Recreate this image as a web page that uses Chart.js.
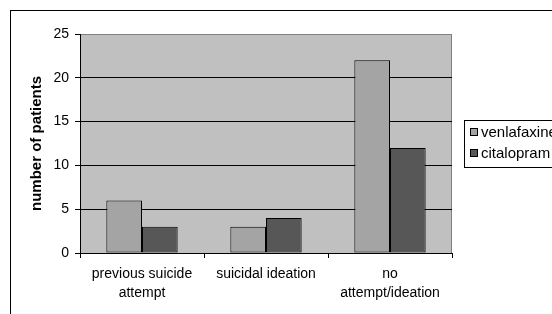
<!DOCTYPE html>
<html>
<head>
<meta charset="utf-8">
<script src="https://cdn.jsdelivr.net/npm/chart.js@4"></script>
<style>
html,body{margin:0;padding:0;background:#fff;}
#wrap{width:552px;height:314px;position:relative;}
</style>
</head>
<body>
<div id="wrap"><canvas id="c" width="552" height="314"></canvas></div>
<script>
const categories = [["previous suicide","attempt"], "suicidal ideation", ["no","attempt/ideation"]];
const seriesNames = ["venlafaxine", "citalopram"];
const venlafaxine = [6, 3, 22];
const citalopram = [3, 4, 12];
const yTicks = [0, 5, 10, 15, 20, 25];
const colors = ["#a4a4a4", "#575757"];

const FONT = "'Liberation Sans', Arial, sans-serif";

const frameAndBg = {
  id: 'frameAndBg',
  beforeDraw(chart) {
    const {ctx, chartArea: a} = chart;
    ctx.save();
    ctx.fillStyle = '#fff';
    ctx.fillRect(0, 0, chart.width, chart.height);
    ctx.strokeStyle = '#000';
    ctx.lineWidth = 1;
    ctx.strokeRect(10.5, 10.5, 600, 400);
    ctx.fillStyle = '#c0c0c0';
    ctx.fillRect(a.left, a.top, a.right - a.left, a.bottom - a.top);
    ctx.strokeStyle = '#808080';
    ctx.strokeRect(a.left + 0.5, a.top + 0.5, a.right - a.left - 1, a.bottom - a.top);
    ctx.restore();
  }
};

const boxLegend = {
  id: 'boxLegend',
  afterDraw(chart) {
    const {ctx} = chart;
    ctx.save();
    ctx.strokeStyle = '#000';
    ctx.lineWidth = 1;
    ctx.strokeRect(464.5, 120.5, 200, 47);
    ctx.font = "15px " + FONT;
    ctx.textBaseline = 'middle';
    ctx.textAlign = 'left';
    chart.data.datasets.forEach((ds, i) => {
      const y = 132 + i * 21;
      ctx.fillStyle = ds.backgroundColor;
      ctx.fillRect(470, y - 4, 8, 8);
      ctx.strokeStyle = '#000';
      ctx.strokeRect(470.5, y - 3.5, 7, 7);
      ctx.fillStyle = '#000';
      ctx.fillText(ds.label, 481, y + 1);
    });
    ctx.restore();
  }
};

new Chart(document.getElementById('c'), {
  type: 'bar',
  data: {
    labels: categories,
    datasets: [
      {label: seriesNames[0], data: venlafaxine, backgroundColor: colors[0], borderColor: '#000', borderWidth: 1, borderSkipped: false},
      {label: seriesNames[1], data: citalopram, backgroundColor: colors[1], borderColor: '#000', borderWidth: 1, borderSkipped: false}
    ]
  },
  options: {
    responsive: false,
    animation: false,
    devicePixelRatio: 1,
    layout: {padding: {left: 11, right: 100, top: 34, bottom: 0}},
    plugins: {legend: {display: false}, tooltip: {enabled: false}},
    datasets: {bar: {categoryPercentage: 0.575, barPercentage: 1}},
    scales: {
      x: {
        offset: true,
        grid: {offset: true, drawOnChartArea: false, drawTicks: true, tickLength: 5, color: '#000'},
        border: {color: '#000', width: 1},
        ticks: {color: '#000', font: {family: FONT, size: 14, lineHeight: 1.35}, padding: 7, maxRotation: 0, autoSkip: false},
        afterFit(s) { s.height = 61; }
      },
      y: {
        min: 0, max: 25,
        afterBuildTicks(s) { s.ticks = yTicks.map(v => ({value: v})); },
        grid: {
          color: (c) => (c.tick && c.tick.value === 25) ? '#808080' : '#000',
          tickColor: '#000', tickLength: 5, drawTicks: true
        },
        border: {color: '#000', width: 1},
        ticks: {color: '#000', font: {family: FONT, size: 14}, padding: 6},
        title: {display: true, text: 'number of patients', color: '#000', font: {family: FONT, size: 15, weight: 'bold'}, padding: {top: 17, bottom: 0}},
        afterFit(s) { s.width = 69; }
      }
    }
  },
  plugins: [frameAndBg, boxLegend]
});
</script>
</body>
</html>
